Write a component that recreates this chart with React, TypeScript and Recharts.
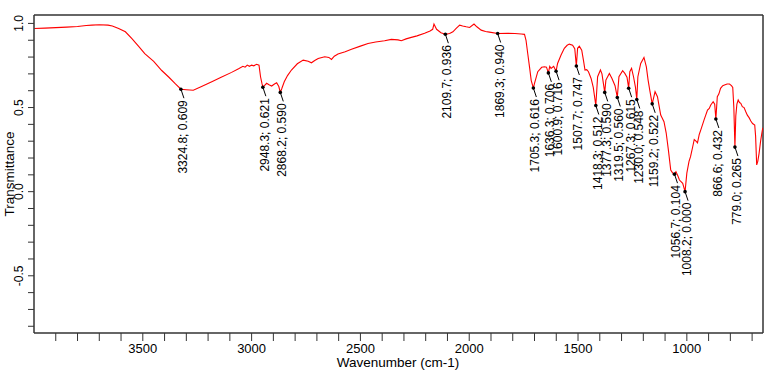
import React from "react";
import { ComposedChart, Line, Scatter, XAxis, YAxis, ReferenceLine } from "recharts";

const wavenumbers = [
  3998, 3950, 3900, 3850, 3800, 3760, 3734, 3700, 3660, 3640, 3611, 3580, 3550, 3520, 3491, 3450, 3413, 3380, 3350,
  3324.8, 3300, 3268, 3230, 3183, 3140, 3092, 3060, 3040, 3030, 3020, 3010, 3000, 2990, 2977, 2966, 2959, 2952,
  2948.3, 2940, 2931, 2920, 2908, 2895, 2885, 2875, 2868.2, 2862, 2850, 2835, 2817, 2790, 2763, 2740, 2725, 2710,
  2694, 2664, 2645, 2633, 2620, 2603, 2570, 2541, 2500, 2465, 2430, 2389, 2358, 2327, 2312, 2290, 2266, 2240, 2205,
  2180, 2168, 2162, 2150, 2130, 2109.7, 2090, 2075, 2060, 2044, 2030, 2014, 1998, 1978, 1965, 1945, 1925, 1907,
  1869.3, 1823, 1790, 1761, 1746, 1739, 1731, 1723, 1715, 1705.3, 1700, 1685, 1667, 1654, 1645, 1636.3, 1630,
  1624, 1612, 1600.9, 1594, 1578, 1563, 1550, 1540, 1525, 1515, 1507.7, 1502, 1494, 1483, 1475, 1468, 1460, 1452,
  1440, 1430, 1418.3, 1410, 1397, 1390, 1377.3, 1372, 1356, 1344, 1330, 1319.5, 1312, 1295, 1285, 1275, 1267.3,
  1262, 1254, 1245, 1236, 1230.0, 1225, 1212, 1197, 1186, 1178, 1170, 1159.2, 1146, 1135, 1120, 1105, 1095, 1085,
  1074, 1065, 1056.7, 1050, 1040, 1034, 1019, 1008.2, 1000, 990, 983, 973, 966, 958, 951, 943, 935, 920, 905, 897,
  890, 879, 872, 866.6, 860, 853, 845, 835, 827, 815, 804, 795, 789, 784, 779.0, 775, 770, 764, 758, 752, 745, 737,
  729, 722, 714, 706, 698, 688, 684, 679, 674, 668, 661, 655, 651,
];

const transmittance = [
  0.970, 0.972, 0.975, 0.978, 0.982, 0.988, 0.990, 0.992, 0.990, 0.985, 0.970, 0.950, 0.910, 0.865, 0.820, 0.775,
  0.720, 0.680, 0.640, 0.609, 0.606, 0.603, 0.625, 0.653, 0.680, 0.709, 0.730, 0.745, 0.740, 0.752, 0.745, 0.752,
  0.748, 0.757, 0.752, 0.683, 0.640, 0.621, 0.632, 0.644, 0.635, 0.628, 0.640, 0.647, 0.625, 0.590, 0.610, 0.653,
  0.690, 0.723, 0.760, 0.782, 0.775, 0.766, 0.780, 0.792, 0.802, 0.798, 0.786, 0.805, 0.818, 0.832, 0.846, 0.865,
  0.881, 0.890, 0.897, 0.905, 0.902, 0.897, 0.908, 0.917, 0.926, 0.941, 0.955, 0.965, 0.996, 0.965, 0.945, 0.936,
  0.940, 0.950, 0.970, 0.990, 0.985, 0.980, 0.976, 0.996, 0.980, 0.960, 0.952, 0.948, 0.940, 0.941, 0.940, 0.937,
  0.935, 0.900, 0.820, 0.742, 0.660, 0.616, 0.644, 0.713, 0.739, 0.742, 0.740, 0.706, 0.745, 0.733, 0.745, 0.716,
  0.762, 0.812, 0.852, 0.870, 0.877, 0.871, 0.850, 0.747, 0.852, 0.865, 0.841, 0.780, 0.723, 0.725, 0.713, 0.673,
  0.620, 0.512, 0.683, 0.723, 0.700, 0.590, 0.663, 0.703, 0.673, 0.630, 0.560, 0.683, 0.719, 0.703, 0.680, 0.615,
  0.713, 0.733, 0.683, 0.620, 0.548, 0.683, 0.762, 0.798, 0.742, 0.663, 0.600, 0.522, 0.594, 0.564, 0.455, 0.416,
  0.350, 0.250, 0.129, 0.110, 0.104, 0.119, 0.090, 0.069, 0.050, 0.000, 0.110, 0.180, 0.208, 0.267, 0.310, 0.300,
  0.290, 0.340, 0.370, 0.430, 0.485, 0.495, 0.515, 0.535, 0.520, 0.432, 0.564, 0.580, 0.614, 0.630, 0.634, 0.640,
  0.640, 0.630, 0.620, 0.500, 0.265, 0.450, 0.520, 0.545, 0.530, 0.525, 0.505, 0.500, 0.475, 0.455, 0.440, 0.420,
  0.405, 0.396, 0.330, 0.159, 0.180, 0.228, 0.300, 0.350, 0.380,
];

const peakWavenumbers = [
  3324.8, 2948.3, 2868.2, 2109.7, 1869.3, 1705.3, 1636.3, 1600.9, 1507.7, 1418.3, 1377.3, 1319.5, 1267.3, 1230.0,
  1159.2, 1056.7, 1008.2, 866.6, 779.0,
];
const peakValues = [
  0.609, 0.621, 0.590, 0.936, 0.940, 0.616, 0.706, 0.716, 0.747, 0.512, 0.590, 0.560, 0.615, 0.548, 0.522, 0.104,
  0.0, 0.432, 0.265,
];

const xTicks = [3900, 3800, 3700, 3600, 3500, 3400, 3300, 3200, 3100, 3000, 2900, 2800, 2700, 2600, 2500, 2400, 2300,
  2200, 2100, 2000, 1900, 1800, 1700, 1600, 1500, 1400, 1300, 1200, 1100, 1000, 900, 800, 700];
const yTicks = [-0.8, -0.7, -0.6, -0.5, -0.4, -0.3, -0.2, -0.1, 0.0, 0.1, 0.2, 0.3, 0.4, 0.5, 0.6, 0.7, 0.8, 0.9, 1.0];

const spectrum = wavenumbers.map((wn, i) => ({ wn, t: transmittance[i] }));
const peaks = peakWavenumbers.map((wn, i) => ({
  wn,
  t: peakValues[i],
  label: `${wn.toFixed(1)}; ${peakValues[i].toFixed(3)}`,
}));

const X_MIN = 650;
const X_MAX = 4000;
const Y_MIN = -0.84;
const Y_MAX = 1.05;

const FONT = "'Liberation Sans', Arial, sans-serif";
const AXIS = "#333333";

const XTick = (props: any) => {
  const { x, payload } = props;
  const v = payload.value;
  if (v % 500 !== 0) return null;
  return (
    <text x={x} y={353} textAnchor="middle" fontFamily={FONT} fontSize={13} fill="#000">
      {String(v)}
    </text>
  );
};

const YTick = (props: any) => {
  const { y, payload } = props;
  const v = payload.value;
  if (Math.abs(v * 2 - Math.round(v * 2)) > 1e-6) return null;
  return (
    <text
      x={23}
      y={y}
      transform={`rotate(-90 23 ${y})`}
      textAnchor="middle"
      fontFamily={FONT}
      fontSize={12}
      fill="#000"
    >
      {v.toFixed(1)}
    </text>
  );
};

const PeakMark = (props: any) => {
  const { cx, cy, payload } = props;
  if (cx == null || cy == null) return null;
  const tx = cx + 6;
  const ty = cy + 11;
  return (
    <g>
      <line x1={cx} y1={cy} x2={cx + 3} y2={cy + 9} stroke="#000" strokeWidth={1} />
      <circle cx={cx} cy={cy} r={1.8} fill="#000" />
      <text
        x={tx}
        y={ty}
        transform={`rotate(-90 ${tx} ${ty})`}
        textAnchor="end"
        fontFamily={FONT}
        fontSize={12}
        fill="#000"
      >
        {payload.label}
      </text>
    </g>
  );
};

export default function App() {
  return (
    <div style={{ position: "absolute", left: 0, top: 0, width: 774, height: 370, background: "#fff" }}>
      <ComposedChart width={774} height={370} data={spectrum} margin={{ top: 15, right: 11, left: 0, bottom: 0 }}>
        <XAxis
          xAxisId="main"
          dataKey="wn"
          type="number"
          domain={[X_MIN, X_MAX]}
          reversed
          allowDataOverflow
          ticks={xTicks}
          interval={0}
          tickSize={8}
          tickMargin={0}
          height={37}
          stroke={AXIS}
          axisLine={{ stroke: AXIS, strokeWidth: 1.5 }}
          tickLine={{ stroke: AXIS, strokeWidth: 1 }}
          tick={<XTick />}
          label={{
            content: () => (
              <text x={398} y={367} textAnchor="middle" fontFamily={FONT} fontSize={13.5} fill="#000">
                Wavenumber (cm-1)
              </text>
            ),
          }}
        />
        <YAxis
          yAxisId="main"
          type="number"
          domain={[Y_MIN, Y_MAX]}
          allowDataOverflow
          ticks={yTicks}
          interval={0}
          tickSize={6}
          tickMargin={0}
          width={34}
          axisLine={{ stroke: AXIS, strokeWidth: 1.5 }}
          tickLine={{ stroke: AXIS, strokeWidth: 1 }}
          tick={<YTick />}
          label={{
            content: () => (
              <text
                x={13.5}
                y={174}
                transform="rotate(-90 13.5 174)"
                textAnchor="middle"
                fontFamily={FONT}
                fontSize={13.5}
                fill="#000"
              >
                Transmittance
              </text>
            ),
          }}
        />
        <ReferenceLine xAxisId="main" yAxisId="main" y={Y_MAX} stroke={AXIS} strokeWidth={1.5} ifOverflow="visible" />
        <ReferenceLine xAxisId="main" yAxisId="main" x={X_MIN} stroke={AXIS} strokeWidth={1.5} ifOverflow="visible" />
        <Line
          xAxisId="main"
          yAxisId="main"
          dataKey="t"
          type="linear"
          stroke="#ff0000"
          strokeWidth={1.1}
          dot={false}
          activeDot={false}
          isAnimationActive={false}
        />
        <Scatter
          xAxisId="main"
          yAxisId="main"
          data={peaks}
          dataKey="t"
          shape={<PeakMark />}
          isAnimationActive={false}
        />
      </ComposedChart>
    </div>
  );
}
